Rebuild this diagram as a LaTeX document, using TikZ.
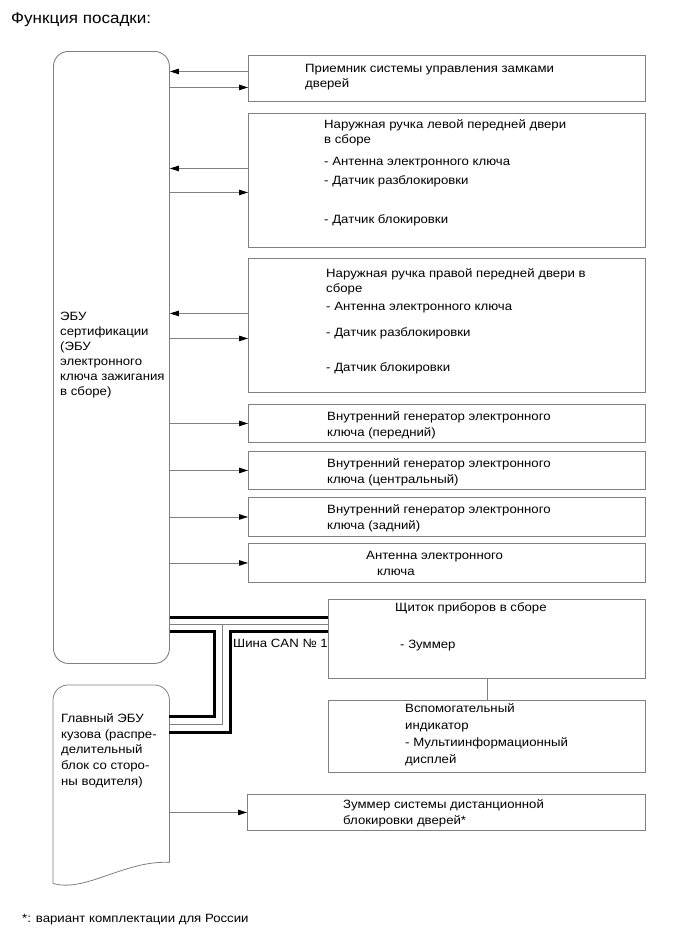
\documentclass[tikz,border=0pt]{standalone}
\usepackage{fontspec}
\setmainfont{Liberation Sans}[FakeStretch=1.1]
\usetikzlibrary{arrows.meta,calc}
\definecolor{linegray}{RGB}{128,128,128}
\tikzset{
  box/.style={draw=linegray, line width=0.9pt, anchor=north west, inner sep=0pt},
  ecubox/.style={draw=linegray, line width=0.9pt, anchor=north west, inner sep=0pt, rounded corners=15pt},
  txt/.style={anchor=base west, inner sep=0pt, font=\fontsize{12}{15}\selectfont},
  titletxt/.style={anchor=base west, inner sep=0pt, font=\fontsize{15.5}{18}\selectfont},
  arr/.style={draw=linegray, line width=0.8pt, -{Triangle[length=9pt,width=5.5pt,color=black]}},
  link/.style={draw=linegray, line width=0.8pt},
  busthick/.style={draw=black, line width=3pt, line join=miter, line cap=butt},
  busthin/.style={draw=linegray, line width=0.9pt},
}
\begin{document}
\begin{tikzpicture}[x=1pt,y=-1pt]
\useasboundingbox (0,0) rectangle (689,951);

% title
\node[titletxt] (title) at (11,23) {Функция посадки:};

% ECUs
\node[ecubox, minimum width=116pt, minimum height=612pt] (ecu) at (53,51) {};
\node[anchor=north west, inner sep=0pt, minimum width=116pt, minimum height=198pt] (ecub) at (53,685) {};
\draw[link, rounded corners=15pt] (ecub.south west) -- (ecub.north west) -- (ecub.north east) -- ($(ecub.south east)+(0,-21)$);
\draw[link] ($(ecub.south east)+(0,-21)$) .. controls (125,860) and (85,893) .. (ecub.south west);

\foreach \py/\ptext [count=\i] in {320/ЭБУ, 335/сертификации, 350/(ЭБУ, 365/электронного, 380/ключа зажигания, 395/в сборе)}
  \node[txt] (ecut\i) at (60,\py) {\ptext};
\foreach \py/\ptext [count=\i] in {722/Главный ЭБУ, 738/кузова (распре-, 753/делительный, 769/блок со сторо-, 785/ны водителя)}
  \node[txt] (ecubt\i) at (61,\py) {\ptext};

% right boxes
\node[box, minimum width=397pt, minimum height=46pt] (b1) at (248,55) {};
\node[box, minimum width=397pt, minimum height=134pt] (b2) at (248,113) {};
\node[box, minimum width=397pt, minimum height=134pt] (b3) at (248,258) {};
\node[box, minimum width=397pt, minimum height=38pt] (b4) at (248,404) {};
\node[box, minimum width=397pt, minimum height=38pt] (b5) at (248,451) {};
\node[box, minimum width=397pt, minimum height=39pt] (b6) at (248,497) {};
\node[box, minimum width=397pt, minimum height=39pt] (b7) at (248,543) {};
\node[box, minimum width=317pt, minimum height=79pt] (b8) at (328,599) {};
\node[box, minimum width=317pt, minimum height=72pt] (b9) at (328,700) {};
\node[box, minimum width=398pt, minimum height=36pt] (b10) at (247,794) {};

% texts in boxes
\foreach \py/\ptext [count=\i] in {72/Приемник системы управления замками, 87.5/дверей}
  \node[txt] (b1t\i) at (305,\py) {\ptext};
\foreach \py/\ptext [count=\i] in {128/Наружная ручка левой передней двери, 143/в сборе, 165/- Антенна электронного ключа, 184/- Датчик разблокировки, 223/- Датчик блокировки}
  \node[txt] (b2t\i) at (324,\py) {\ptext};
\foreach \py/\ptext [count=\i] in {277/Наружная ручка правой передней двери в, 292/сборе, 310/- Антенна электронного ключа, 336/- Датчик разблокировки, 371/- Датчик блокировки}
  \node[txt] (b3t\i) at (326,\py) {\ptext};
\foreach \py/\ptext [count=\i] in {420/Внутренний генератор электронного, 436.5/ключа (передний)}
  \node[txt] (b4t\i) at (327,\py) {\ptext};
\foreach \py/\ptext [count=\i] in {467/Внутренний генератор электронного, 483.5/ключа (центральный)}
  \node[txt] (b5t\i) at (327,\py) {\ptext};
\foreach \py/\ptext [count=\i] in {513/Внутренний генератор электронного, 529.5/ключа (задний)}
  \node[txt] (b6t\i) at (327,\py) {\ptext};
\node[txt] (b7t1) at (366,559) {Антенна электронного};
\node[txt] (b7t2) at (377,575) {ключа};
\node[txt] (b8t1) at (395,611) {Щиток приборов в сборе};
\node[txt] (b8t2) at (400,648) {- Зуммер};
\foreach \py/\ptext [count=\i] in {712/Вспомогательный, 729/индикатор, 746/- Мультиинформационный, 763/дисплей}
  \node[txt] (b9t\i) at (405,\py) {\ptext};
\foreach \py/\ptext [count=\i] in {808/Зуммер системы дистанционной, 824/блокировки дверей*}
  \node[txt] (b10t\i) at (343,\py) {\ptext};

% arrows
\coordinate (a1) at ([yshift=7pt]b1.west);
\coordinate (a2) at ([yshift=-9pt]b1.west);
\coordinate (a3) at ([yshift=12pt]b2.west);
\coordinate (a4) at ([yshift=-12pt]b2.west);
\coordinate (a5) at ([yshift=12pt]b3.west);
\coordinate (a6) at ([yshift=-13pt]b3.west);
\draw[arr] (a1) -- (ecu.east |- a1);
\draw[arr] (ecu.east |- a2) -- (a2);
\draw[arr] (a3) -- (ecu.east |- a3);
\draw[arr] (ecu.east |- a4) -- (a4);
\draw[arr] (a5) -- (ecu.east |- a5);
\draw[arr] (ecu.east |- a6) -- (a6);
\draw[arr] (ecu.east |- b4.west) -- (b4.west);
\draw[arr] (ecu.east |- b5.west) -- (b5.west);
\draw[arr] (ecu.east |- b6.west) -- (b6.west);
\draw[arr] (ecu.east |- b7.west) -- (b7.west);
\draw[arr] (ecub.east |- b10.west) -- (b10.west);

% link between b8 and b9
\draw[link] (b8.south -| 487,0) -- (b9.north -| 487,0);

% CAN bus
\coordinate (k1) at (ecu.east |- 0,617.7);
\coordinate (k2) at (ecu.east |- 0,624.5);
\coordinate (k3) at (ecu.east |- 0,631.7);
\coordinate (m1) at (ecub.east |- 0,716.7);
\coordinate (m2) at (ecub.east |- 0,724);
\coordinate (m3) at (ecub.east |- 0,732.7);
\draw[busthick] (k1) -- (b8.west |- k1);
\draw[busthin] (k2) -- (b8.west |- k2);
\draw[busthin] (222,0 |- k2) -- (222,0 |- m2) -- (m2);
\draw[busthick] (k3) -- (214,0 |- k3) -- (214,0 |- m1) -- (m1);
\draw[busthick] (b8.west |- k3) -- (230,0 |- k3) -- (230,0 |- m3) -- (m3);
\node[txt] (can) at (233,647) {Шина CAN № 1};

% footnote
\node[txt] (foot) at (22,922) {*: вариант комплектации для России};
\end{tikzpicture}
\end{document}
